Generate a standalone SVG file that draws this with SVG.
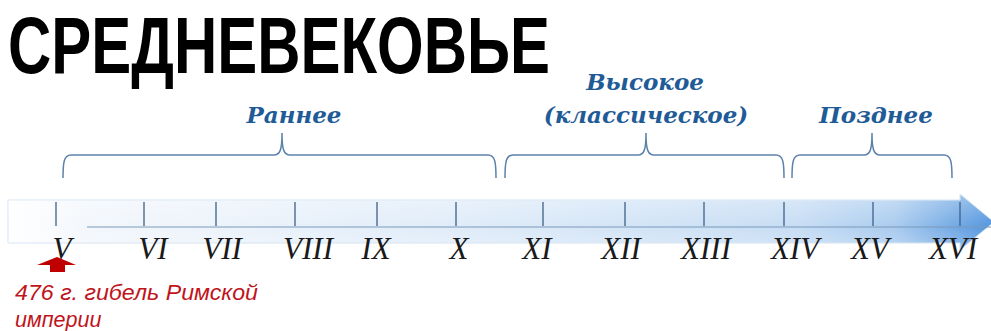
<svg xmlns="http://www.w3.org/2000/svg" width="991" height="331" viewBox="0 0 991 331">
<defs>
<linearGradient id="band" x1="0" y1="0" x2="1" y2="0">
<stop offset="0" stop-color="#ffffff"/>
<stop offset="0.08" stop-color="#f3f7fc"/>
<stop offset="0.45" stop-color="#e0ecf9"/>
<stop offset="0.8" stop-color="#c7ddf4"/>
<stop offset="0.9" stop-color="#a9cbef"/>
<stop offset="1" stop-color="#4f93dd"/>
</linearGradient>
<linearGradient id="shade" x1="0" y1="0" x2="0" y2="1">
<stop offset="0" stop-color="#ffffff" stop-opacity="0.35"/>
<stop offset="0.6" stop-color="#ffffff" stop-opacity="0"/>
<stop offset="1" stop-color="#ffffff" stop-opacity="0.25"/>
</linearGradient>
<style>
.tick{stroke:#3d6187;stroke-width:1.3}
.num{font-family:"Liberation Serif",serif;font-style:italic;font-size:31px;fill:#1a1a1a;text-anchor:middle}
.brace{fill:none;stroke:#5d82aa;stroke-width:1.5}
.per{font-family:"DejaVu Serif","Liberation Serif",serif;font-style:italic;font-weight:bold;font-size:23px;fill:#1f5b97;text-anchor:middle}
.red{font-family:"Liberation Sans",Arial,sans-serif;font-style:italic;font-size:21.5px;fill:#c0141c}
</style>
</defs>
<rect width="991" height="331" fill="#ffffff"/>

<g id="title">
<text transform="translate(8,73) scale(1,1.356)" x="0" y="0" font-family="Liberation Sans, Arial, sans-serif" font-weight="bold" font-size="59" textLength="542" lengthAdjust="spacingAndGlyphs" fill="#000000">СРЕДНЕВЕКОВЬЕ</text>
</g>

<g id="timeline">
<path d="M8,200 L960,200 L960,194 L994,222 L960,250 L960,243 L8,243 Z" fill="url(#band)" stroke="#d3e1f0" stroke-width="1"/>
<path d="M8,200 L960,200 L960,194 L994,222 L960,250 L960,243 L8,243 Z" fill="url(#shade)"/>
<line x1="87" y1="227" x2="994" y2="227" stroke="#7c9ab9" stroke-width="1.2"/>
<g class="ticks">
<line class="tick" x1="56" y1="202" x2="56" y2="226"/>
<line class="tick" x1="144" y1="202" x2="144" y2="226"/>
<line class="tick" x1="216" y1="202" x2="216" y2="226"/>
<line class="tick" x1="295" y1="202" x2="295" y2="226"/>
<line class="tick" x1="377" y1="202" x2="377" y2="226"/>
<line class="tick" x1="456" y1="202" x2="456" y2="226"/>
<line class="tick" x1="543" y1="202" x2="543" y2="226"/>
<line class="tick" x1="625" y1="202" x2="625" y2="226"/>
<line class="tick" x1="704" y1="202" x2="704" y2="226"/>
<line class="tick" x1="784" y1="202" x2="784" y2="226"/>
<line class="tick" x1="873" y1="202" x2="873" y2="226"/>
<line class="tick" x1="960" y1="202" x2="960" y2="226"/>
</g>
<g class="labels">
<text class="num" x="62" y="259">V</text>
<text class="num" x="153" y="259">VI</text>
<text class="num" x="222" y="259">VII</text>
<text class="num" x="308" y="259">VIII</text>
<text class="num" x="376" y="259">IX</text>
<text class="num" x="459" y="259">X</text>
<text class="num" x="537" y="259">XI</text>
<text class="num" x="621" y="259">XII</text>
<text class="num" x="706" y="259">XIII</text>
<text class="num" x="795" y="259">XIV</text>
<text class="num" x="870" y="259">XV</text>
<text class="num" x="953" y="259">XVI</text>
</g>
</g>

<g id="connectors">
<path class="brace" d="M63,178 C63,162 64,155 71,155 L274,155 C280,155 282,150 282,133 C282,150 284,155 290,155 L488,155 C495,155 496,162 496,178"/>
<path class="brace" d="M505,178 C505,162 506,155 513,155 L638,155 C644,155 646,150 646,133 C646,150 648,155 654,155 L776,155 C783,155 784,162 784,178"/>
<path class="brace" d="M792,178 C792,162 793,155 800,155 L864,155 C870,155 872,150 872,133 C872,150 874,155 880,155 L944,155 C951,155 952,162 952,178"/>
</g>

<g id="early">
<text class="per" x="294" y="123">Раннее</text>
</g>
<g id="high">
<text class="per"><tspan x="645" y="90">Высокое</tspan><tspan x="646" y="123">(классическое)</tspan></text>
</g>
<g id="late">
<text class="per" x="876" y="123">Позднее</text>
</g>

<g id="event">
<path d="M57,257 L76,265 L65,265 L65,272 L50,272 L50,265 L37,265 Z" fill="#c00000"/>
<text class="red" x="15" y="300" textLength="243" lengthAdjust="spacingAndGlyphs">476 г. гибель Римской</text>
<text class="red" x="15" y="327">империи</text>
</g>
</svg>
